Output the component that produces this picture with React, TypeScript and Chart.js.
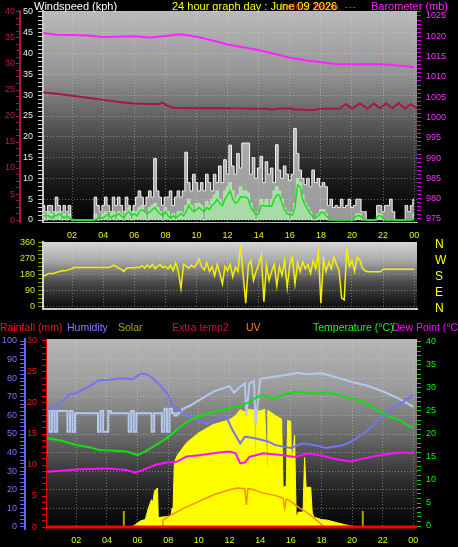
import React, { useEffect, useRef } from "react";
import { Chart, registerables } from "chart.js";

Chart.register(...registerables);

const FONT = '"Liberation Sans", Arial, Helvetica, sans-serif';

// ---------- categories ----------
const slotHours: number[] = Array.from({ length: 144 }, (_, i) => (i + 1) / 6); // 10-minute slots
const hourTicks = [2, 4, 6, 8, 10, 12, 14, 16, 18, 20, 22, 24];
const compassTicks = [0, 90, 180, 270, 360];
const compassLabels = ["N", "E", "S", "W", "N"];

// ---------- top panel: wind (kph) ----------
const windGust = [
  3.5, 2, 3.5, 3.5, 2, 5.5,
  3.5, 2, 3.5, 2, 3.5, 0,
  0, 0, 0, 0, 0, 0,
  0, 0, 5.5, 3.5, 2, 3.5,
  5.5, 3.5, 2, 5.5, 3.5, 5.5,
  3.5, 2, 5.5, 3.5, 2, 3.5,
  5.5, 7, 5.5, 3.5, 5.5, 7,
  5.5, 14.8, 7, 5.5, 3.5, 5.5,
  5.5, 7, 3.5, 5.5, 7, 5.5,
  7, 16.3, 9, 7, 11, 9,
  7, 9, 7, 11, 9, 7,
  11, 9, 13, 9, 14.5, 11,
  18, 13, 11, 16, 12.5, 18.5,
  18.5, 18.5, 11, 15, 10, 12.5,
  15.3, 9, 14, 11, 12.5, 9,
  18.1, 12, 10, 13, 11, 9.5,
  11, 22, 16, 12, 10, 8.5,
  10, 8, 12, 9, 10, 8,
  9, 8, 3.5, 5, 3, 3.5,
  3, 5, 3, 3.5, 5, 3,
  3.5, 5, 5, 2, 2, 0,
  0, 0, 0, 3.5, 3.5, 2,
  3.5, 3.5, 5, 2, 0, 0,
  0, 0, 3.5, 2, 3.5, 5,
];
const windSpeed = [
  1.5, 0, 2, 1.5, 0, 2,
  2, 0, 1.5, 0, 1.5, 0,
  0, 0, 0, 0, 0, 0,
  0, 0, 1.5, 0, 0, 1.5,
  2, 0, 1.5, 2, 0, 2,
  1.5, 0, 2, 3, 0, 2,
  2, 3, 3.5, 2, 0, 3,
  3.5, 4, 3, 2, 0, 3,
  2, 0, 1.5, 0, 2, 2,
  1.5, 3.5, 5, 3.5, 2, 4,
  4, 3.5, 0, 4.5, 3.5, 5,
  6, 7, 5, 4, 7, 8,
  9, 7, 5, 6, 8, 7,
  7, 6.5, 4, 2, 0, 2,
  5, 4, 5, 3, 5, 7,
  8, 7, 5, 3, 2, 0,
  2, 4, 10, 9, 6, 4,
  3, 2, 0, 0, 1.5, 2.5,
  2.5, 1.5, 0, 0, 0, 0,
  0, 0, 0, 0, 0, 0,
  0, 1.5, 1.5, 0, 0, 0,
  0, 0, 0, 1.5, 1.5, 0,
  0, 0, 0, 0, 0, 0,
  0, 0, 0, 0, 0, 1.5,
];
const windAvg = [
  1, 1, 1, 0.5, 1, 1,
  1.5, 1, 0.5, 1, 0.5, 0,
  0, 0, 0, 0, 0, 0,
  0, 0, 0, 0.5, 0.5, 0.5,
  1, 1.5, 0.5, 1, 1, 1.5,
  1, 0.5, 1.5, 2, 1, 1.5,
  1, 2, 2.5, 2, 1.5, 2,
  2.5, 3, 2, 1.5, 1, 2,
  1, 0.5, 1, 0.5, 1, 1.5,
  1, 2, 3.5, 2.5, 2, 2.5,
  3, 2.5, 2, 3, 2.5, 3.5,
  4, 5, 4, 3.5, 5, 6,
  7, 5, 4, 4.5, 5.5, 5.5,
  5.5, 5, 3, 2, 1.2, 1.5,
  3.5, 3.5, 3.3, 3.3, 3.3, 5,
  6, 6, 4, 2.4, 1.5, 1.2,
  1.2, 3, 8.4, 8, 4.8, 3.5,
  2.4, 1.5, 0.8, 0.6, 1, 1.8,
  1.8, 1, 0.5, 0, 0, 0,
  0, 0, 0, 0, 0, 0,
  0.5, 1, 1, 0.5, 0, 0,
  0, 0, 0, 1, 1, 0.5,
  0, 0, 0, 0, 0, 0,
  0, 0, 0, 0, 0, 0.5,
];

// barometer (mb)
const baroHours = [0.15, 1, 2, 3, 4, 5, 6, 7, 8, 9, 10, 11, 12, 13, 14, 15, 16, 17, 18, 19, 20, 21, 22, 23, 24];
const baroValues = [1020.8, 1020.4, 1020.3, 1020.2, 1019.8, 1019.9, 1020.0, 1019.7, 1020.1, 1020.5, 1019.9, 1019.0, 1018.0, 1017.3, 1016.6, 1015.7, 1014.7, 1014.1, 1013.6, 1013.2, 1013.1, 1013.2, 1013.1, 1012.8, 1012.4];

// extra temperature (outer left axis, 0-40)
const extraTempHours = [0.15, 1, 2, 3, 4, 5, 6, 7, 7.6, 7.8, 8.1, 8.5, 10, 12, 14, 14.6, 14.8, 15.2, 16, 16.3, 16.6, 17, 17.6, 17.9, 19.2, 19.6, 20.0, 20.5, 21.0, 21.4, 21.8, 22.2, 22.6, 23.0, 23.4, 23.8, 24.2];
const extraTempValues = [24.5, 24.3, 23.9, 23.5, 23.1, 22.7, 22.4, 22.3, 22.3, 22.6, 22.0, 21.6, 21.5, 21.5, 21.4, 21.4, 21.2, 21.4, 21.5, 21.2, 21.3, 21.15, 21.15, 21.4, 21.4, 22.3, 21.4, 22.4, 21.4, 22.4, 21.5, 22.4, 21.5, 22.5, 21.4, 22.3, 21.4];

// ---------- middle panel: wind direction (deg) ----------
const windDir = [
  174, 180, 189, 189, 189, 196,
  198, 204, 204, 206, 210, 217,
  222, 222, 222, 222, 222, 222,
  222, 222, 222, 222, 222, 222,
  222, 222, 226, 235, 228, 218,
  212, 200, 218, 221, 221, 221,
  224, 221, 232, 218, 236, 222,
  240, 215, 230, 238, 222, 228,
  215, 235, 205, 248, 200, 105,
  240, 230, 218, 235, 222, 240,
  270, 225, 208, 250, 200, 228,
  175, 240, 190, 130, 228, 205,
  240, 170, 225, 200, 348, 180,
  22, 235, 260, 150, 200, 240,
  292, 30, 235, 150, 200, 240,
  120, 228, 180, 260, 110, 240,
  280, 130, 250, 200, 255, 215,
  240, 190, 260, 215, 311, 22,
  270, 200, 250, 215, 280, 240,
  205, 50, 40, 331, 230, 260,
  200, 280, 265, 219, 205, 198,
  198, 198, 198, 198, 198, 212,
  212, 212, 212, 212, 212, 212,
  212, 212, 212, 212, 212, 212,
];

// ---------- bottom panel ----------
const humidityHours = [0.1, 0.5, 1, 1.5, 2, 2.7, 3.5, 4, 5, 5.7, 6.2, 6.6, 7, 7.5, 8, 8.3, 9.2, 9.9, 10.5, 11.2, 11.8, 12.2, 12.7, 13, 13.5, 14, 14.5, 15, 16, 16.8, 17.6, 18.3, 19.4, 20, 20.7, 21.3, 22.2, 23.1, 24];
const humidityValues = [63, 64, 67, 71, 72, 75, 79, 79, 80, 79.5, 82.5, 82, 80, 76, 71, 65, 60, 57.5, 55.5, 58.5, 59, 52, 45, 48.5, 48, 47, 46, 44, 42.5, 45, 44, 42.5, 44, 46, 50, 54, 62, 66, 71];

const indoorNightValues = [
  25, 20.5, 25, 20.5, 25, 25,
  25, 25, 20.5, 25, 20.5, 24.5,
  24.5, 24.5, 24.5, 24.5, 24.5, 24.5,
  24.5, 24.5, 20.5, 25, 20.5, 20.5,
  25, 24.5, 24.5, 24.5, 24.5, 24.5,
  24.5, 24.5, 20.5, 25, 20.5, 24.5,
  24.5, 24.5, 24.5, 24.5, 24.5, 20.5,
  24.5, 24.5, 24.5, 20.5, 25.5, 20.5,
  25.5, 24.5, 24, 24.5, 25, 25.5,
];
const indoorDayHours = [9.0, 9.5, 10, 11, 12, 12.3, 12.6, 13, 13.1, 13.3, 13.6, 13.7, 14, 15, 16, 16.4, 17, 18, 19, 20, 21, 22, 23, 24];
const indoorDayValues = [25.5, 26.3, 27.3, 29.3, 30.4, 29, 30, 31, 24, 31, 31.5, 22, 32, 32.5, 33, 33.3, 33, 33.2, 32.3, 31.3, 30.5, 29.3, 27.8, 25.9];

const tempHours = [0.1, 1, 2, 3, 3.5, 4.2, 5.3, 6, 6.5, 7, 7.9, 8.8, 9.4, 10, 11, 12, 12.7, 13.3, 13.7, 14.1, 14.8, 15.4, 16.3, 17.4, 18.4, 19.9, 20.7, 21.3, 22.2, 23.1, 24];
const tempValues = [19.1, 18.6, 17.6, 17, 16.5, 16.4, 16.2, 15.4, 16.2, 17.2, 19.1, 21.6, 23, 23.8, 24.8, 25.6, 26, 27, 27.8, 28.5, 27.8, 28.3, 29.2, 28.8, 29, 27.8, 27, 25.9, 24.1, 23, 21.2];

const dewHours = [0.1, 1, 2, 3, 4, 5.3, 5.8, 6.2, 7.2, 7.9, 8.5, 9.2, 10, 11.2, 12, 12.4, 12.7, 13, 13.3, 14.2, 15.2, 16.3, 17.1, 17.9, 19, 19.9, 20.8, 21.8, 23, 24];
const dewValues = [11.8, 12, 12.3, 12.4, 12.5, 12.2, 11.6, 12, 13.3, 13.8, 13.9, 15.1, 15.4, 15.9, 16.2, 15.8, 13.6, 13.8, 15, 15.8, 15.5, 15, 15.8, 15.4, 14.5, 14, 14.7, 15.4, 15.9, 15.9];

const solarHours = [5.6, 5.8, 6.2, 6.5, 6.7, 6.9, 7.0, 7.1, 7.3, 7.35, 7.6, 8.0, 8.2, 8.25, 8.3, 8.4, 8.6, 9.2, 10, 10.9, 12, 12.4, 12.7, 13.0, 13.3, 13.65, 13.7, 13.75, 14.0, 14.3, 14.45, 14.5, 15.0, 15.4, 15.5, 15.7, 15.8, 16.0, 16.05, 16.25, 16.35, 16.5, 16.8, 16.9, 17.0, 17.3, 17.4, 17.5, 18.0, 18.4, 19.0, 19.5, 20.0, 20.2];
const solarValues = [0, 15, 50, 60, 150, 220, 200, 290, 315, 75, 80, 85, 100, 150, 90, 520, 580, 680, 760, 825, 865, 900, 945, 930, 950, 940, 260, 945, 935, 950, 480, 940, 900, 870, 320, 330, 860, 850, 480, 740, 80, 120, 120, 560, 320, 320, 120, 80, 60, 55, 35, 20, 5, 0];

const uvHours = [7.6, 7.65, 8, 9, 10, 11, 12, 12.5, 13, 13.1, 13.2, 13.5, 14, 15, 15.5, 15.6, 15.7, 16, 16.3, 16.6, 17, 17.4, 17.8, 18.2];
const uvValues = [0, 0.6, 0.9, 1.6, 2.2, 2.8, 3.2, 3.35, 3.3, 1.9, 3.3, 3.25, 3.0, 2.7, 2.5, 1.6, 2.4, 2.2, 1.9, 1.6, 1.3, 0.9, 0.45, 0];

const rainHours = [0, 24.3];
const rainValues = [0, 0];

const spikeHours = [5.1, 20.7];
const spikeValues = [130, 130];

// ---------- helpers ----------
const pts = (xs: number[], ys: (number | null)[]) => xs.map((x, i) => ({ x, y: ys[i] }));
const range = (a: number, b: number, s: number) => {
  const out: number[] = [];
  for (let v = a; v <= b + 1e-9; v += s) out.push(Math.round(v * 1000) / 1000);
  return out;
};
const setTicks = (vals: number[]) => (scale: any) => {
  scale.ticks = vals.map((value) => ({ value }));
};
const isMult = (v: number, n: number) => Math.abs(v / n - Math.round(v / n)) < 1e-6;
const labelEvery = (n: number) => (v: any) => (isMult(Number(v), n) ? String(Number(v)) : "");
const hourLabel = (v: any) => String(Number(v) % 24).padStart(2, "0");
const fixW = (w: number) => (s: any) => {
  s.width = w;
  s.paddingTop = 0;
  s.paddingBottom = 0;
};
const fixH = (h: number) => (s: any) => {
  s.height = h;
  s.paddingLeft = 0;
  s.paddingRight = 0;
};
const GRID = "rgba(220,220,220,0.42)";
const gridEvery = (n: number) => (c: any) =>
  c.tick && isMult(c.tick.value, n) ? GRID : "rgba(0,0,0,0)";
const tickFont = { family: FONT, size: 9 };

const bgPlugin = {
  id: "bgGrad",
  beforeDraw(chart: any, _a: any, opts: any) {
    const a = chart.chartArea;
    if (!a || !opts || !opts.stops) return;
    const ctx = chart.ctx;
    const g = ctx.createLinearGradient(0, a.top, 0, a.bottom);
    opts.stops.forEach((s: [number, string]) => g.addColorStop(s[0], s[1]));
    ctx.save();
    ctx.fillStyle = g;
    ctx.fillRect(a.left, a.top, a.right - a.left, a.bottom - a.top);
    ctx.restore();
  },
};
Chart.register(bgPlugin as any);

const baseOpts = {
  animation: false as const,
  responsive: false,
  events: [] as any[],
  elements: { point: { radius: 0 }, line: { tension: 0 } },
};

export default function App() {
  const topRef = useRef<HTMLCanvasElement>(null);
  const midRef = useRef<HTMLCanvasElement>(null);
  const botRef = useRef<HTMLCanvasElement>(null);

  useEffect(() => {
    document.body.style.margin = "0";
    document.body.style.background = "#000";

    const top = new Chart(topRef.current as HTMLCanvasElement, {
      type: "line",
      data: {
        datasets: [
          { label: "Barometer", data: pts(baroHours, baroValues), yAxisID: "yBaro", borderColor: "#ff22ff", borderWidth: 2, order: 0 },
          { label: "Extra temp", data: pts(extraTempHours, extraTempValues), yAxisID: "yExtra", borderColor: "#a8164a", borderWidth: 2, order: 1 },
          { label: "Average", data: pts(slotHours, windAvg), yAxisID: "yWind", borderColor: "#18e018", borderWidth: 1.5, order: 2 },
          { label: "Speed", data: pts(slotHours, windSpeed), yAxisID: "yWind", stepped: "middle", borderColor: "rgba(180,236,180,0.95)", backgroundColor: "rgba(172,230,172,0.85)", fill: "origin", borderWidth: 1, order: 3 },
          { label: "Gust", data: pts(slotHours, windGust), yAxisID: "yWind", stepped: "middle", borderColor: "#f8f8f8", backgroundColor: "rgba(214,214,214,0.72)", fill: "origin", borderWidth: 1, order: 4 },
        ],
      },
      options: {
        ...baseOpts,
        layout: { padding: { top: 11, left: 0, right: 0, bottom: 0 } },
        plugins: {
          legend: { display: false },
          tooltip: { enabled: false },
          bgGrad: { stops: [[0, "#bababa"], [0.3, "#949494"], [0.55, "#555555"], [0.78, "#1e1e1e"], [1, "#000000"]] },
        } as any,
        scales: {
          x: {
            type: "linear", min: 0.13, max: 24.18,
            afterBuildTicks: setTicks(hourTicks), afterFit: fixH(23),
            ticks: { color: "#f0f000", font: tickFont, padding: 8, autoSkip: false, maxRotation: 0, callback: hourLabel },
            grid: { color: GRID, drawTicks: false },
            border: { display: true, color: "#bdbdbd", width: 1, dash: [1, 2] },
          },
          yExtra: {
            position: "left", weight: 2, min: -0.38, max: 40.19,
            afterBuildTicks: setTicks(range(0, 40, 1.25)), afterFit: fixW(20),
            ticks: { color: "#b81c50", font: tickFont, padding: 1, autoSkip: false, callback: labelEvery(5) },
            grid: { drawOnChartArea: false, tickColor: "#a8164a", tickLength: 4 },
            border: { color: "#a8164a", width: 2 },
          },
          yWind: {
            position: "left", weight: 1, min: -0.48, max: 50.24,
            afterBuildTicks: setTicks(range(0, 50, 1)), afterFit: fixW(23),
            ticks: { color: "#e4ecff", font: tickFont, padding: 5, autoSkip: false, callback: labelEvery(5) },
            grid: { color: gridEvery(5), tickColor: "#d0d0d0", tickLength: 5 },
            border: { color: "#c8c8c8", width: 2, dash: [1, 2] },
          },
          yBaro: {
            position: "right", min: 974.26, max: 1026.23,
            afterBuildTicks: setTicks(range(975, 1026, 1)), afterFit: fixW(41),
            ticks: { color: "#ff30ff", font: tickFont, padding: 5, autoSkip: false, callback: labelEvery(5) },
            grid: { drawOnChartArea: false, tickColor: "#e000e0", tickLength: 4 },
            border: { display: false },
          },
        } as any,
      },
    });

    const mid = new Chart(midRef.current as HTMLCanvasElement, {
      type: "line",
      data: {
        datasets: [
          { label: "Direction", data: pts(slotHours, windDir), yAxisID: "yDir", borderColor: "#f4f000", borderWidth: 1.5 },
        ],
      },
      options: {
        ...baseOpts,
        layout: { padding: { top: 6, left: 0, right: 0, bottom: 0 } },
        plugins: {
          legend: { display: false },
          tooltip: { enabled: false },
          bgGrad: { stops: [[0, "#d6d6d6"], [0.3, "#a4a4a4"], [0.6, "#4c4c4c"], [1, "#080808"]] },
        } as any,
        scales: {
          x: {
            type: "linear", min: 0.13, max: 24.18,
            afterBuildTicks: setTicks(hourTicks), afterFit: fixH(7),
            ticks: { display: false },
            grid: { color: GRID, drawTicks: false },
            border: { display: true, color: "#c8c8c8", width: 2, dash: [1, 2] },
          },
          yDir: {
            position: "left", min: -11.25, max: 365.6,
            afterBuildTicks: setTicks(range(0, 360, 22.5)), afterFit: fixW(43),
            ticks: { color: "#d4e830", font: tickFont, padding: 3, autoSkip: false, callback: labelEvery(90) },
            grid: { color: gridEvery(90), tickColor: "#909000", tickLength: 5 },
            border: { color: "#d4d4d4", width: 2, dash: [1, 2] },
          },
          yCompass: {
            position: "right", min: -11.25, max: 365.6,
            afterBuildTicks: setTicks(compassTicks), afterFit: fixW(41),
            ticks: {
              color: "#ffff00", font: { family: FONT, size: 12 }, padding: 0, labelOffset: 2, autoSkip: false,
              callback: (v: any) => compassLabels[compassTicks.indexOf(Number(v))] || "",
            },
            grid: { drawOnChartArea: false, drawTicks: true, tickLength: 18, tickColor: "rgba(0,0,0,0)" },
            border: { display: false },
          },
        } as any,
      },
    });

    const spikeData = spikeHours.flatMap((h, i) => [
      { x: h, y: 0 },
      { x: h, y: spikeValues[i] },
      { x: h, y: null },
    ]);

    const bot = new Chart(botRef.current as HTMLCanvasElement, {
      type: "line",
      data: {
        datasets: [
          { label: "Rainfall", data: pts(rainHours, rainValues), yAxisID: "yRain", borderColor: "#ff0000", borderWidth: 3, order: 0 },
          { label: "Solar spikes", data: spikeData as any, yAxisID: "ySolar", borderColor: "#b0a000", borderWidth: 2, order: 1 },
          { label: "Dew Point", data: pts(dewHours, dewValues), yAxisID: "yTemp", borderColor: "#ff10ff", borderWidth: 2, order: 2 },
          { label: "Temperature", data: pts(tempHours, tempValues), yAxisID: "yTemp", borderColor: "#10e010", borderWidth: 2, order: 3 },
          { label: "Humidity", data: pts(humidityHours, humidityValues), yAxisID: "yHum", borderColor: "#7474f4", borderWidth: 2, order: 4 },
          {
            label: "Indoor night",
            data: pts(slotHours.slice(0, 54), indoorNightValues),
            yAxisID: "yTemp", stepped: "middle", borderColor: "#b4c8f0", borderWidth: 2, order: 5,
          },
          {
            label: "Indoor day",
            data: pts(indoorDayHours, indoorDayValues),
            yAxisID: "yTemp", borderColor: "#b4c8f0", borderWidth: 2, order: 5,
          },
          { label: "UV", data: pts(uvHours, uvValues), yAxisID: "yUV", borderColor: "#ff8c10", borderWidth: 1.5, order: 6 },
          { label: "Solar", data: pts(solarHours, solarValues), yAxisID: "ySolar", borderColor: "#ffff00", backgroundColor: "#ffff00", fill: "origin", borderWidth: 1, order: 7 },
        ],
      },
      options: {
        ...baseOpts,
        layout: { padding: { top: 7, left: 0, right: 0, bottom: 0 } },
        plugins: {
          legend: { display: false },
          tooltip: { enabled: false },
          bgGrad: { stops: [[0, "#b6b6b6"], [0.25, "#9c9c9c"], [0.5, "#6c6c6c"], [0.75, "#2c2c2c"], [1, "#000000"]] },
        } as any,
        scales: {
          x: {
            type: "linear", min: 0.02, max: 24.24,
            afterBuildTicks: setTicks(hourTicks), afterFit: fixH(18),
            ticks: { color: "#f0f000", font: tickFont, padding: 6, autoSkip: false, maxRotation: 0, callback: hourLabel },
            grid: { color: GRID, drawTicks: false },
            border: { display: false, dash: [1, 2] },
          },
          yHum: {
            position: "left", weight: 2, min: -1.08, max: 101.08,
            afterBuildTicks: setTicks(range(0, 100, 2)), afterFit: fixW(25),
            ticks: { color: "#7878ff", font: tickFont, padding: 3, autoSkip: false, callback: labelEvery(10) },
            grid: { color: gridEvery(10), tickColor: "#6464ec", tickLength: 5 },
            border: { color: "#6464ec", width: 2, dash: [1, 2] },
          },
          yRain: {
            position: "left", weight: 1, min: -0.32, max: 30.32,
            afterBuildTicks: setTicks(range(0, 30, 1)), afterFit: fixW(21),
            ticks: { color: "#ff1010", font: tickFont, padding: 5, autoSkip: false, callback: labelEvery(5) },
            grid: { drawOnChartArea: false, tickColor: "#e00000", tickLength: 4 },
            border: { color: "#e00000", width: 1 },
          },
          yTemp: {
            position: "right", min: -0.65, max: 40.65,
            afterBuildTicks: setTicks(range(0, 40, 1)), afterFit: fixW(41),
            ticks: { color: "#10f010", font: tickFont, padding: 5, autoSkip: false, callback: labelEvery(5) },
            grid: { drawOnChartArea: false, tickColor: "#00d000", tickLength: 4 },
            border: { display: false },
          },
          ySolar: { display: false, min: -16.1, max: 1516.1 },
          yUV: { display: false, min: -0.17, max: 16.17 },
        } as any,
      },
    });

    return () => {
      top.destroy();
      mid.destroy();
      bot.destroy();
    };
  }, []);

  const hdr = (left: number, topPx: number, color: string, text: string, size = 11) => (
    <span
      style={{
        position: "absolute", left, top: topPx, color, fontFamily: FONT, fontSize: size,
        lineHeight: "12px", whiteSpace: "nowrap",
      }}
    >
      {text}
    </span>
  );

  return (
    <div style={{ position: "absolute", left: 0, top: 0, width: 458, height: 547, background: "#000", overflow: "hidden" }}>
      <canvas ref={topRef} width={458} height={245} style={{ position: "absolute", left: 0, top: 0 }} />
      <canvas ref={midRef} width={458} height={80} style={{ position: "absolute", left: 0, top: 236 }} />
      <canvas ref={botRef} width={458} height={215} style={{ position: "absolute", left: 0, top: 332 }} />
      {hdr(34, 0, "#ffffff", "Windspeed (kph)")}
      {hdr(280, 0, "#d42020", "Indoor temp. ---")}
      {hdr(172, 0, "#ffff00", "24 hour graph day : June 09 2026")}
      {hdr(371, 0, "#ff22ff", "Barometer (mb)")}
      {hdr(0, 321, "#ff1010", "Rainfall (mm)", 10.5)}
      {hdr(67, 321, "#8080ff", "Humidity", 10.5)}
      {hdr(118, 321, "#a8a800", "Solar", 10.5)}
      {hdr(172, 321, "#d0104a", "Extra temp2", 10.5)}
      {hdr(246, 321, "#ff8410", "UV", 10.5)}
      {hdr(313, 321, "#10ff10", "Temperature (\u00b0C)", 10.5)}
      {hdr(392, 321, "#ff10ff", "Dew Point (\u00b0C)", 10.5)}
    </div>
  );
}
